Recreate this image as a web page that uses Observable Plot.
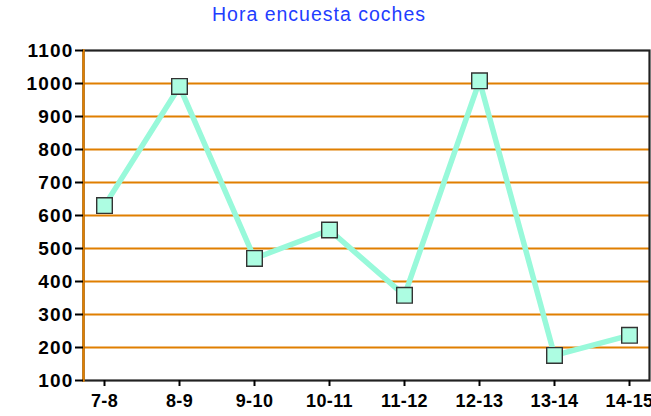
<!DOCTYPE html>
<html><head><meta charset="utf-8">
<script src="https://cdn.jsdelivr.net/npm/d3@7"></script>
<script src="https://cdn.jsdelivr.net/npm/@observablehq/plot@0.6"></script>
<style>
body{margin:0;background:#fff;width:651px;height:416px;overflow:hidden;position:relative;font-family:"Liberation Sans",Arial,sans-serif}
#title{position:absolute;left:0;width:638px;top:3px;text-align:center;color:#1f3dff;font-size:19.5px;letter-spacing:1px;line-height:22px}
#chart{position:absolute;top:36px;left:0}
#chart g[aria-label="y-axis tick label"] text{letter-spacing:1.2px}
#chart g[aria-label="x-axis tick label"] text{letter-spacing:0.4px}
</style></head><body>
<div id="title">Hora encuesta coches</div>
<div id="chart"></div>
<script>
const categories = ["7-8", "8-9", "9-10", "10-11", "11-12", "12-13", "13-14", "14-15"];
const coches = [630, 991, 470, 556, 358, 1008, 176, 237];
const yTicks = [100, 200, 300, 400, 500, 600, 700, 800, 900, 1000, 1100];
const gridValues = [200, 300, 400, 500, 600, 700, 800, 900, 1000];

const data = categories.map((c, i) => ({hora: c, coches: coches[i]}));
const orange = "#e07f00";

const chart = Plot.plot({
  width: 651,
  height: 380,
  marginTop: 14,
  marginBottom: 36,
  marginLeft: 83,
  marginRight: 2,
  style: {fontFamily: "'Liberation Sans', Arial, sans-serif", background: "#fff", overflow: "visible"},
  x: {type: "point", domain: categories, padding: 0.25, label: null},
  y: {domain: [100, 1100], label: null},
  marks: [
    Plot.ruleY(gridValues, {stroke: orange, strokeWidth: 2.2}),
    Plot.frame({stroke: "#222", strokeWidth: 2.2}),
    Plot.frame({anchor: "left", stroke: orange, strokeWidth: 2.4}),
    Plot.line(data, {x: "hora", y: "coches", stroke: "#98f9da", strokeWidth: 5.5}),
    Plot.dot(data, {x: "hora", y: "coches", symbol: "square", r: 8.8, fill: "#adfde2", stroke: "#333", strokeWidth: 1.4}),
    Plot.axisY(yTicks, {tickSize: 8, tickPadding: 2, tickFormat: (d) => String(d), stroke: "#000", strokeWidth: 2, fontSize: 19, fontWeight: "bold", fill: "#000"}),
    Plot.axisX(categories, {tickSize: 6, tickPadding: 8, stroke: "#000", strokeWidth: 2, fontSize: 18, fontWeight: "bold", fill: "#000"})
  ]
});
document.getElementById("chart").appendChild(chart);
</script>
</body></html>
